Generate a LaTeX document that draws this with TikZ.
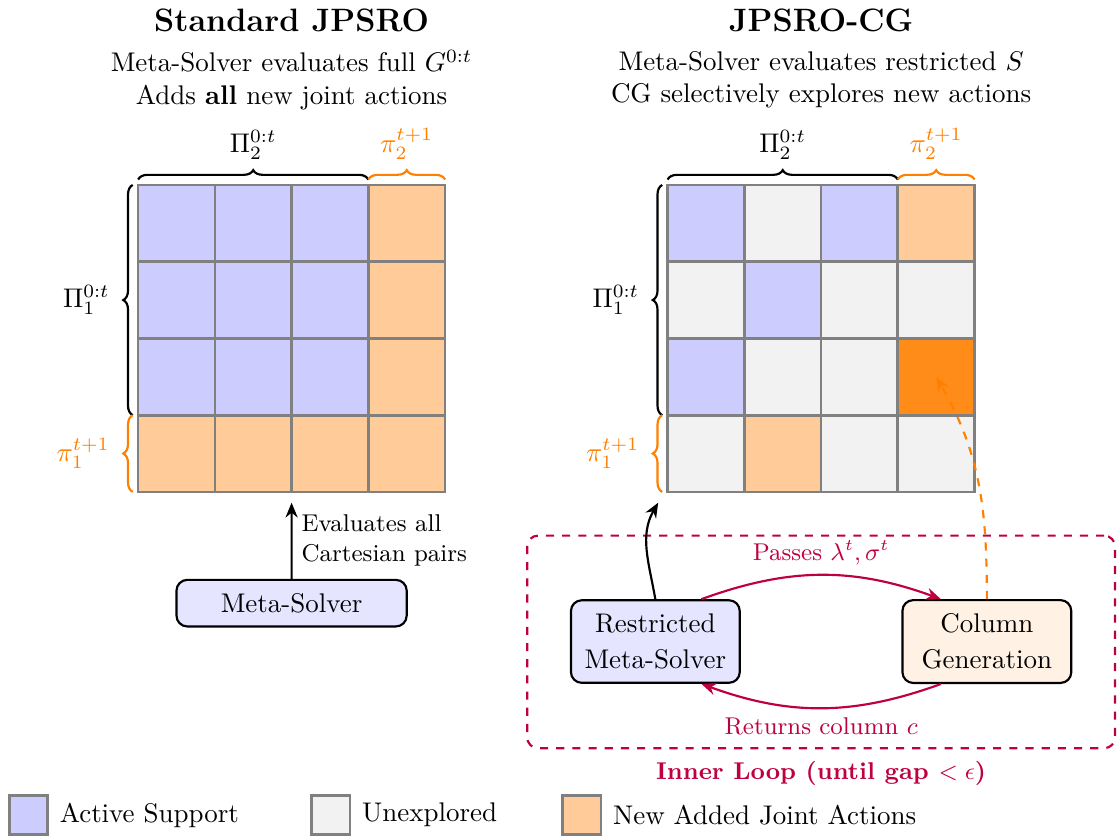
\documentclass[tikz,border=0pt]{standalone}
\usepackage{xcolor}
\colorlet{ActiveBlue}{blue!20}
\colorlet{Unexplored}{gray!10}
\colorlet{NewOrange}{orange!40}
\colorlet{PickedOrange}{orange!90}
\usepackage{amsmath}
\usepackage{tikz}
\usetikzlibrary{arrows.meta}
\usetikzlibrary{decorations.pathreplacing}
\usetikzlibrary{positioning}
\tikzset{
	cell/.style={draw=gray,line width=1pt,minimum size=1cm,inner sep=0pt,outer sep=0pt},
	solver/.style={draw,thick,rounded corners,align=center,inner sep=5pt,font=\normalsize\linespread{1.12}\selectfont},
	brc/.style={decorate,thick,decoration={brace,amplitude=3.5pt,raise=2pt}},
	flow/.style={thick,-{Stealth[length=5.5pt,width=4.5pt]}}
}

\begin{document}
\begin{tikzpicture}
		\useasboundingbox (-1.8,2.41) rectangle (12.795,-8.495);
		
		% titles
		\node[font=\large\bfseries] (ltitle) at (2,2.15) {Standard JPSRO};
		\node[align=center] (lsub) at (2,1.37) {Meta-Solver evaluates full $G^{0:t}$\\Adds \textbf{all} new joint actions};
		\node[font=\large\bfseries] (rtitle) at (8.9,2.15) {JPSRO-CG};
		\node[align=center] (rsub) at (8.9,1.37) {Meta-Solver evaluates restricted $S$\\CG selectively explores new actions};
		
		% full grid
		\foreach \r in {1,2,3} {
			\foreach \c in {1,2,3}
				\node[cell,fill=ActiveBlue] (L\r\c) at (\c-0.5,0.5-\r) {};
			\node[cell,fill=NewOrange] (L\r4) at (3.5,0.5-\r) {};
		}
		\foreach \c in {1,...,4}
			\node[cell,fill=NewOrange] (L4\c) at (\c-0.5,-3.5) {};
		
		% restricted grid
		\foreach \r/\c/\fc in {1/1/ActiveBlue,1/2/Unexplored,1/3/ActiveBlue,1/4/NewOrange,
			2/1/Unexplored,2/2/ActiveBlue,2/3/Unexplored,2/4/Unexplored,
			3/1/ActiveBlue,3/2/Unexplored,3/3/Unexplored,3/4/PickedOrange,
			4/1/Unexplored,4/2/NewOrange,4/3/Unexplored,4/4/Unexplored}
			\node[cell,fill=\fc] (R\r\c) at (6.4+\c,0.5-\r) {};
		
		% braces
		\foreach \g in {L,R} {
			\draw[brc] (\g11.north west) -- (\g13.north east);
			\draw[brc,orange] (\g14.north west) -- (\g14.north east);
			\draw[brc] (\g31.south west) -- (\g11.north west);
			\draw[brc,orange] (\g41.south west) -- (\g41.north west);
			\path (\g11.north west) -- (\g13.north east) node[midway,above=6pt] (\g pi2) {$\Pi_2^{0:t}$};
			\path (\g14.north west) -- (\g14.north east) node[midway,above=6pt,orange] (\g new2) {$\pi_2^{t+1}$};
			\path (\g31.south west) -- (\g11.north west) node[midway,left=7pt] (\g pi1) {$\Pi_1^{0:t}$};
			\path (\g41.south west) -- (\g41.north west) node[midway,left=7pt,orange] (\g new1) {$\pi_1^{t+1}$};
		}
		
		% standard meta-solver
		\node[solver,fill=blue!10,minimum width=3cm,minimum height=0.5cm] (ms) at (2,-5.45) {Meta-Solver};
		\draw[flow] (ms.north) -- ([yshift=-4pt]L42.south east) node[midway,right,align=left,font=\small] {Evaluates all\\Cartesian pairs};
		
		% inner loop
		\node[draw=purple,thick,dashed,rounded corners,minimum width=7.66cm,minimum height=2.77cm] (loopbox) at (8.9,-5.955) {};
		\node[purple,font=\small\bfseries,below=1pt of loopbox] (looplabel) {Inner Loop (until gap $<\epsilon$)};
		
		\node[solver,fill=blue!10,minimum width=2.2cm,minimum height=1cm] (rms) at (6.74,-5.95) {Restricted\\Meta-Solver};
		\node[solver,fill=orange!10,minimum width=2.2cm,minimum height=1cm] (cg) at (11.06,-5.95) {Column\\Generation};
		
		\draw[flow] (rms.north) to[out=100,in=-120] ([shift={(-3.5pt,-4pt)}]R41.south west);
		\draw[flow,purple] ([xshift=0.6cm]rms.north) to[bend left=20] node[midway,above,font=\small] {Passes $\lambda^t, \sigma^t$} ([xshift=-0.6cm]cg.north);
		\draw[flow,purple] ([xshift=-0.6cm]cg.south) to[bend left=20] node[midway,below,font=\small] {Returns column $c$} ([xshift=0.6cm]rms.south);
		\draw[flow,orange,dashed] (cg.north) to[out=90,in=-60] (R34.center);
		
		% legend
		\node[cell,fill=ActiveBlue,minimum size=0.5cm] (keyA) at (-1.43,-8.21) {};
		\node[right=1pt of keyA] (keyAtext) {Active Support};
		\node[cell,fill=Unexplored,minimum size=0.5cm] (keyU) at (2.51,-8.21) {};
		\node[right=1pt of keyU] (keyUtext) {Unexplored};
		\node[cell,fill=NewOrange,minimum size=0.5cm] (keyN) at (5.78,-8.21) {};
		\node[right=1pt of keyN] (keyNtext) {New Added Joint Actions};
		
	\end{tikzpicture}
\end{document}
